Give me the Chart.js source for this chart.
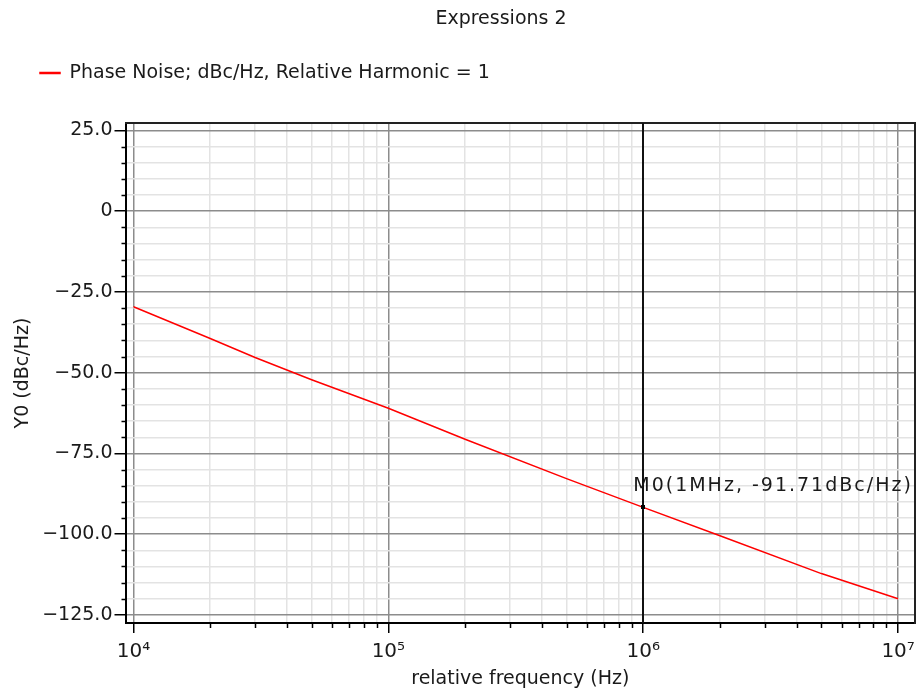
<!DOCTYPE html>
<html>
<head>
<meta charset="utf-8">
<script src="https://cdn.jsdelivr.net/npm/chart.js@4/dist/chart.umd.min.js"></script>
<style>
html,body{margin:0;padding:0;background:#fff;}
#wrap{width:922px;height:692px;position:relative;}
</style>
</head>
<body>
<div id="wrap"><canvas id="c" width="922" height="692"></canvas></div>
<script>
// ---- data ----
const chartTitle = 'Expressions 2';
const seriesLabel = 'Phase Noise; dBc/Hz, Relative Harmonic = 1';
const xAxisTitle = 'relative frequency (Hz)';
const yAxisTitle = 'Y0 (dBc/Hz)';
const frequencies = [1e4, 2e4, 3e4, 5e4, 1e5, 2e5, 5e5, 1e6, 2e6, 5e6, 1e7];
const phaseNoise  = [-29.6, -39.4, -45.3, -52.2, -61.0, -70.6, -82.8, -91.71, -100.5, -112.2, -120.0];
const xTickValues = [1e4,2e4,3e4,4e4,5e4,6e4,7e4,8e4,9e4,
                     1e5,2e5,3e5,4e5,5e5,6e5,7e5,8e5,9e5,
                     1e6,2e6,3e6,4e6,5e6,6e6,7e6,8e6,9e6,1e7];
const xMajorTicks = [1e4, 1e5, 1e6, 1e7];
const yTickValues = [-125,-120,-115,-110,-105,-100,-95,-90,-85,-80,-75,-70,-65,-60,-55,-50,
                     -45,-40,-35,-30,-25,-20,-15,-10,-5,0,5,10,15,20,25];
const yMajorTicks = [-125, -100, -75, -50, -25, 0, 25];
const xRange = [9303, 11660000];
const yRange = [-127.5, 27.3];
const markerName = 'M0';
const markerFreq = 1e6;
const markerFreqLabel = '1MHz';
const markerValue = -91.71;

// ---- helpers ----
const FONT = "'DejaVu Sans', 'Liberation Sans', sans-serif";
Chart.defaults.font.family = FONT;
Chart.defaults.font.size = 19;
Chart.defaults.color = '#1a1a1a';
const SUP = {'0':'\u2070','1':'\u00b9','2':'\u00b2','3':'\u00b3','4':'\u2074','5':'\u2075','6':'\u2076','7':'\u2077','8':'\u2078','9':'\u2079'};
const isMajorX = v => xMajorTicks.some(t => Math.abs(t - v) < 1e-6 * t);
const isMajorY = v => yMajorTicks.includes(v);
const fmtX = v => '10' + String(Math.round(Math.log10(v))).split('').map(c => SUP[c]).join('');
const fmtY = v => v === 0 ? '0' : (v < 0 ? '\u2212' : '') + Math.abs(v).toFixed(1);

const decorPlugin = {
  id: 'decor',
  beforeDatasetsDraw(chart) {
    const {ctx, chartArea, scales} = chart;
    const px = Math.round(scales.x.getPixelForValue(markerFreq));
    ctx.save();
    ctx.strokeStyle = '#111';
    ctx.lineWidth = 2;
    ctx.beginPath();
    ctx.moveTo(px, chartArea.top);
    ctx.lineTo(px, chartArea.bottom);
    ctx.stroke();
    ctx.restore();
  },
  afterDraw(chart) {
    const {ctx, chartArea, scales} = chart;
    ctx.save();
    // title
    ctx.fillStyle = '#1a1a1a';
    ctx.font = "19px " + FONT;
    ctx.textAlign = 'center';
    ctx.textBaseline = 'middle';
    ctx.fillText(chartTitle, 501, 19);
    // minor tick marks
    ctx.strokeStyle = '#000';
    ctx.lineWidth = 1.5;
    ctx.beginPath();
    yTickValues.filter(v => !isMajorY(v)).forEach(v => {
      const y = Math.round(scales.y.getPixelForValue(v)) + 0.5;
      ctx.moveTo(chartArea.left - 4, y); ctx.lineTo(chartArea.left, y);
    });
    xTickValues.filter(v => !isMajorX(v)).forEach(v => {
      const x = Math.round(scales.x.getPixelForValue(v)) + 0.5;
      ctx.moveTo(x, chartArea.bottom); ctx.lineTo(x, chartArea.bottom + 5);
    });
    ctx.stroke();
    // marker point + label
    const mx = scales.x.getPixelForValue(markerFreq);
    const my = scales.y.getPixelForValue(markerValue);
    ctx.fillStyle = '#000';
    ctx.fillRect(Math.round(mx) - 2, Math.round(my) - 2, 4, 4);
    ctx.fillStyle = '#1a1a1a';
    ctx.textAlign = 'left';
    ctx.textBaseline = 'middle';
    if ('letterSpacing' in ctx) ctx.letterSpacing = '2px';
    ctx.fillText(`${markerName}(${markerFreqLabel}, ${markerValue}dBc/Hz)`, mx - 10, my - 21);
    ctx.restore();
  }
};

new Chart(document.getElementById('c'), {
  type: 'line',
  data: {
    datasets: [{
      label: seriesLabel,
      data: frequencies.map((f, i) => ({x: f, y: phaseNoise[i]})),
      borderColor: '#ff0000',
      backgroundColor: '#ff0000',
      borderWidth: 1.5,
      pointRadius: 0,
      tension: 0,
      fill: false
    }]
  },
  options: {
    responsive: false,
    animation: false,
    devicePixelRatio: 1,
    layout: {padding: {left: 8, right: 6, top: 31.5, bottom: 0}},
    plugins: {
      title: {display: false},
      tooltip: {enabled: false},
      legend: {
        display: true,
        position: 'top',
        align: 'start',
        labels: {boxWidth: 20, boxHeight: 1, padding: 32, color: '#1a1a1a', font: {size: 19}}
      }
    },
    scales: {
      x: {
        type: 'logarithmic',
        position: 'bottom',
        min: xRange[0], max: xRange[1],
        afterBuildTicks: s => { s.ticks = xTickValues.map(v => ({value: v, major: isMajorX(v)})); },
        afterFit: s => { s.height = 69; },
        ticks: {autoSkip: false, maxRotation: 0, padding: 7, color: '#1a1a1a',
                font: {size: 20},
                callback: v => isMajorX(v) ? fmtX(v) : ''},
        grid: {
          color: c => (c.tick && isMajorX(c.tick.value)) ? '#8c8c8c' : '#e3e3e3',
          lineWidth: 1.5,
          tickLength: 10,
          tickColor: c => (c.tick && isMajorX(c.tick.value)) ? '#000' : 'rgba(0,0,0,0)',
          tickWidth: 1.5
        },
        border: {display: true, color: '#000', width: 2},
        title: {display: true, text: xAxisTitle, color: '#1a1a1a', padding: {top: 0, bottom: 2}}
      },
      y: {
        type: 'linear',
        position: 'left',
        min: yRange[0], max: yRange[1],
        afterBuildTicks: s => { s.ticks = yTickValues.map(v => ({value: v})); },
        afterFit: s => { s.width = 117.5; },
        ticks: {autoSkip: false, padding: 2, color: '#1a1a1a',
                callback: v => isMajorY(v) ? fmtY(v) : ''},
        grid: {
          color: c => (c.tick && isMajorY(c.tick.value)) ? '#8c8c8c' : '#e3e3e3',
          lineWidth: 1.5,
          tickLength: 11,
          tickColor: c => (c.tick && isMajorY(c.tick.value)) ? '#000' : 'rgba(0,0,0,0)',
          tickWidth: 1.5
        },
        border: {display: true, color: '#000', width: 2},
        title: {display: true, text: yAxisTitle, color: '#1a1a1a', padding: {top: 4, bottom: 0}}
      },
      x2: {
        type: 'logarithmic',
        position: 'top',
        min: xRange[0], max: xRange[1],
        afterFit: s => { s.height = 30.5; },
        ticks: {display: false},
        grid: {display: false, drawTicks: false},
        border: {display: true, color: '#222', width: 2}
      },
      y2: {
        type: 'linear',
        position: 'right',
        min: yRange[0], max: yRange[1],
        afterFit: s => { s.width = 0; },
        ticks: {display: false},
        grid: {display: false, drawTicks: false},
        border: {display: true, color: '#222', width: 2}
      }
    }
  },
  plugins: [decorPlugin]
});
</script>
</body>
</html>
